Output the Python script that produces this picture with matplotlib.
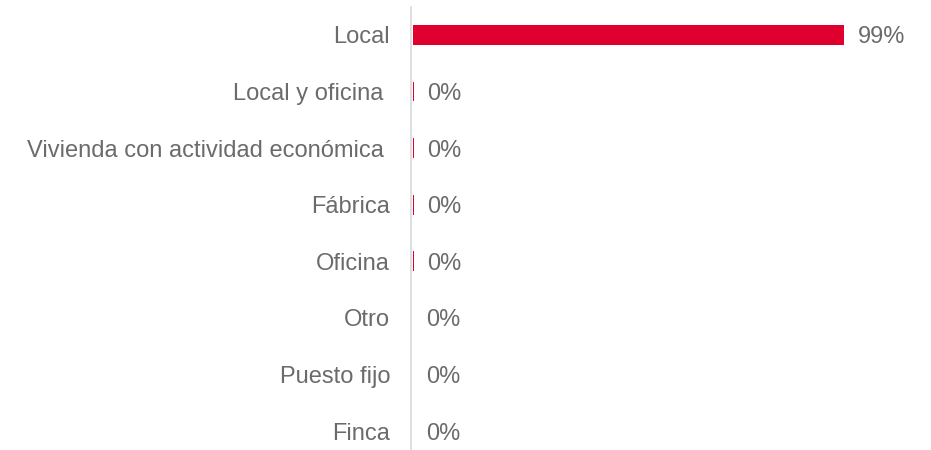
import matplotlib
matplotlib.use("Agg")
import matplotlib.pyplot as plt

categories = ["Local", "Local y oficina ", "Vivienda con actividad económica ", "Fábrica",
              "Oficina", "Otro", "Puesto fijo", "Finca"]
values = [99, 0.25, 0.25, 0.2, 0.2, 0, 0, 0]
labels = ["99%", "0%", "0%", "0%", "0%", "0%", "0%", "0%"]

plt.rcParams['font.family'] = ['Liberation Sans', 'DejaVu Sans']
W, H = 931, 450
fig = plt.figure(figsize=(W/100, H/100), dpi=100)
left, right = 411, 847
top, bottom = 6.7, 450
ax = fig.add_axes([left/W, (H-bottom)/H, (right-left)/W, (bottom-top)/H])

y = list(range(len(categories)))
ax.barh(y, values, height=0.35, color="#E0002F", left=0.4)
ax.set_xlim(0, 100)
ax.set_ylim(7 + (450-431)/56.6, -0.5)
ax.set_yticks(y)
ax.set_yticklabels(categories, fontsize=17, color="#6B6B6B")
ax.tick_params(axis='y', length=0, pad=15)
ax.set_xticks([])
for s in ["top", "right", "bottom"]:
    ax.spines[s].set_visible(False)
ax.spines["left"].set_color("#D9D9D9")
ax.spines["left"].set_linewidth(1.2)

for yi, v, lab in zip(y, values, labels):
    ax.text(v + 0.4 + 3.1, yi, lab, va="center_baseline", ha="left", fontsize=17, color="#6B6B6B")

fig.savefig("out.png", dpi=100)
